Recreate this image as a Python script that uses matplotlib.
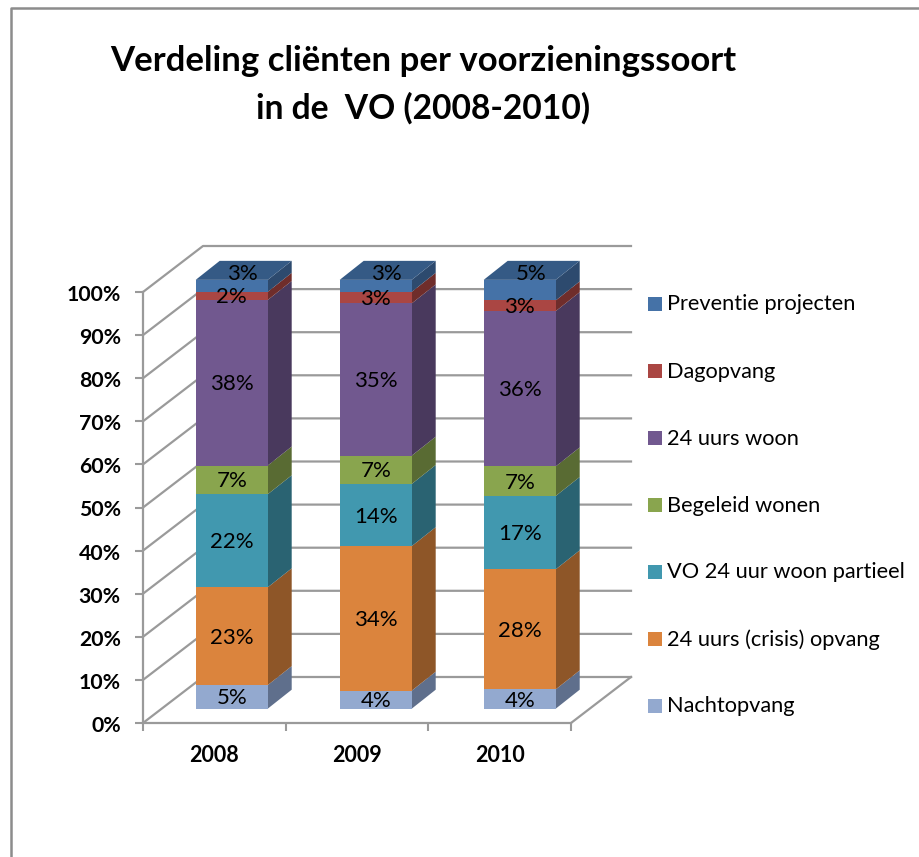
import matplotlib
matplotlib.use('Agg')
import matplotlib.pyplot as plt
from matplotlib.patches import Polygon, Rectangle
from matplotlib.transforms import ScaledTranslation
import numpy as np

plt.rcParams['font.family'] = ['Lato', 'DejaVu Sans']

years = ['2008', '2009', '2010']
series = ['Nachtopvang', '24 uurs (crisis) opvang', 'VO 24 uur woon partieel',
          'Begeleid wonen', '24 uurs woon', 'Dagopvang', 'Preventie projecten']

# shares, bottom to top
nacht = [5.5, 4.2, 4.5]
crisis = [22.8, 33.7, 28.0]
partieel = [21.7, 14.5, 17.1]
begeleid = [6.7, 6.6, 6.9]
woon = [38.6, 35.5, 36.2]
dagopvang = [1.9, 2.7, 2.5]
preventie = [2.8, 2.8, 4.8]
values = [nacht, crisis, partieel, begeleid, woon, dagopvang, preventie]

# the printed labels
labels = [['5%', '4%', '4%'], ['23%', '34%', '28%'], ['22%', '14%', '17%'],
          ['7%', '7%', '7%'], ['38%', '35%', '36%'], ['2%', '3%', '3%'],
          ['3%', '3%', '5%']]

front = ['#93A9CF', '#DB843D', '#4198AF', '#89A54E', '#71588F', '#AA4643', '#4572A7']
side = ['#5F6F8C', '#8E5628', '#2A6372', '#596B33', '#49395D', '#6F2D2B', '#2D4A6E']
top_col = '#355A85'
grid_col = '#9A9A9A'
yticks = np.arange(0, 101, 10)

W, H = 920, 857
fig = plt.figure(figsize=(W / 100, H / 100), dpi=100)

# overlay in pixels for the frame and the legend
bg = fig.add_axes([0, 0, 1, 1])
bg.set_xlim(0, W)
bg.set_ylim(H, 0)
bg.axis('off')
bg.plot([11, 11, W], [H, 7.5, 7.5], color='#8C8C8C', lw=1.8)

for i, name in enumerate(series):
    y = 706 - i * 67
    bg.add_patch(Rectangle((648, y - 7), 14, 14, color=front[i], lw=0))
    bg.text(667, y + 0.5, name, fontsize=15.7, va='center', ha='left', color='black')

fig.text(423 / W, 1 - 61 / H, 'Verdeling cliënten per voorzieningssoort', fontsize=25,
         fontweight='bold', ha='center', va='center', color='black')
fig.text(423 / W, 1 - 108 / H, 'in de  VO (2008-2010)', fontsize=24.2,
         fontweight='bold', ha='center', va='center', color='black')

# plot box: x 143-571, y 723-292 px
ax = fig.add_axes([143 / W, 1 - 723 / H, 428 / W, 431 / H])
ax.patch.set_alpha(0)
ax.set_xlim(0, 3)
ax.set_ylim(0, 100)
px_x = 3 / 428
px_y = 100 / 431

# depth of the walls
wx = 60 * px_x
wy = 46 * px_y
for t in yticks:
    ax.plot([0, wx, 3 + wx], [t, t + wy, t + wy], color=grid_col, lw=1.6, clip_on=False, zorder=1)
ax.plot([3, 3 + wx], [0, wy], color=grid_col, lw=1.6, clip_on=False, zorder=1)

for sp in ['top', 'right']:
    ax.spines[sp].set_visible(False)
for sp in ['left', 'bottom']:
    ax.spines[sp].set_color(grid_col)
    ax.spines[sp].set_linewidth(1.6)
    ax.spines[sp].set_zorder(2)

ax.set_yticks(yticks)
ax.set_yticklabels(['%d%%' % t for t in yticks], fontsize=15.3, fontweight='bold')
ax.set_xticks([0, 1, 2, 3])
ax.set_xticklabels([])
ax.set_xticks([0.5, 1.5, 2.5], minor=True)
ax.set_xticklabels(years, minor=True, fontsize=15.5, fontweight='bold')
ax.tick_params(axis='y', length=6, width=1.5, color=grid_col, pad=10)
ax.tick_params(axis='x', which='major', length=6, width=1.5, color=grid_col)
ax.tick_params(axis='x', which='minor', length=0, pad=15.5)

# bars, sheared back into the box
bar_w = 72 * px_x
dx = 24 * px_x
dy = 19 * px_y
base = 14.3 * px_y
scale = 0.995
shift = 1.5 * px_y
for j in range(3):
    x0 = (195.7 + j * 144 - 143) * px_x
    x1 = x0 + bar_w
    xc = x0 + bar_w / 2
    bottom = base
    for i in range(len(series)):
        h = values[i][j] * scale
        ax.add_patch(Polygon([(x1, bottom), (x1 + dx, bottom + dy), (x1 + dx, bottom + h + dy),
                              (x1, bottom + h)], closed=True, fc=side[i], ec='none', clip_on=False, zorder=3))
        ax.add_patch(Rectangle((x0, bottom), bar_w, h, fc=front[i], ec='none', clip_on=False, zorder=4))
        if i == len(series) - 1:
            top = bottom + h
            ax.add_patch(Polygon([(x0, top), (x1, top), (x1 + dx, top + dy), (x0 + dx, top + dy)],
                                 closed=True, fc=top_col, ec='none', clip_on=False, zorder=4))
            ax.text(xc + 11 * px_x, top + 7 * px_y - shift, labels[i][j], ha='center', va='center',
                    fontsize=16, color='black', zorder=6)
        else:
            ax.text(xc, bottom + h / 2 - shift, labels[i][j], ha='center', va='center',
                    fontsize=16, color='black', zorder=6)
        bottom += h

# y labels sit a touch lower in the original
for lab in ax.get_yticklabels():
    lab.set_transform(lab.get_transform() + ScaledTranslation(0, -0.7 / 72, fig.dpi_scale_trans))

fig.savefig('out.png', dpi=100)
